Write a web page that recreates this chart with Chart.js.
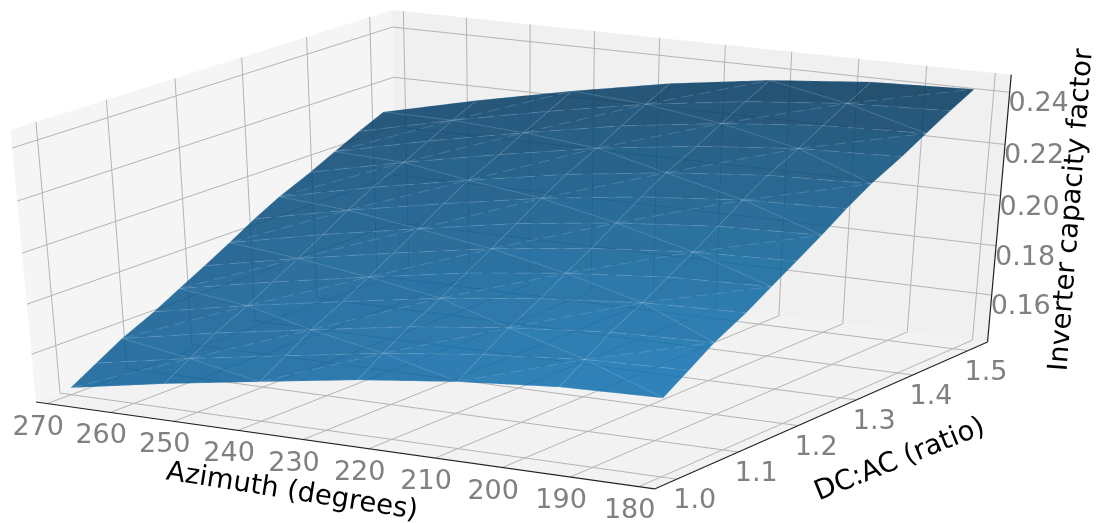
<!DOCTYPE html>
<html>
<head>
<meta charset="utf-8">
<title>Inverter capacity factor</title>
<script src="https://cdn.jsdelivr.net/npm/chart.js@4"></script>
<style>
  html, body { margin: 0; padding: 0; background: #fff; }
  canvas { display: block; }
</style>
</head>
<body>
<canvas id="chart" width="1099" height="523"></canvas>
<script>
// Surface values, one list per DC:AC row
const azimuths = [270, 255, 240, 225, 210, 195, 180];
const dcRatios = [1.00, 1.04, 1.08, 1.13, 1.17, 1.21, 1.25, 1.29, 1.33, 1.38, 1.42, 1.46, 1.50];
const cf100 = [0.1434, 0.1504, 0.1565, 0.1626, 0.1672, 0.1705, 0.1716];
const cf104 = [0.1495, 0.1566, 0.1629, 0.1691, 0.1738, 0.1771, 0.1782];
const cf108 = [0.1556, 0.1629, 0.1693, 0.1756, 0.1803, 0.1837, 0.1848];
const cf113 = [0.1616, 0.1691, 0.1757, 0.1820, 0.1868, 0.1902, 0.1914];
const cf117 = [0.1672, 0.1748, 0.1816, 0.1881, 0.1929, 0.1963, 0.1975];
const cf121 = [0.1727, 0.1805, 0.1874, 0.1939, 0.1988, 0.2022, 0.2035];
const cf125 = [0.1784, 0.1864, 0.1934, 0.2001, 0.2050, 0.2084, 0.2097];
const cf129 = [0.1844, 0.1925, 0.1997, 0.2064, 0.2115, 0.2149, 0.2162];
const cf133 = [0.1898, 0.1981, 0.2054, 0.2122, 0.2173, 0.2208, 0.2221];
const cf138 = [0.1953, 0.2037, 0.2112, 0.2181, 0.2232, 0.2267, 0.2280];
const cf142 = [0.2002, 0.2088, 0.2164, 0.2234, 0.2286, 0.2321, 0.2334];
const cf146 = [0.2050, 0.2137, 0.2215, 0.2285, 0.2337, 0.2372, 0.2386];
const cf150 = [0.2095, 0.2183, 0.2262, 0.2333, 0.2386, 0.2421, 0.2435];
const capacityRows = [cf100, cf104, cf108, cf113, cf117, cf121, cf125, cf129, cf133, cf138, cf142, cf146, cf150];

// Tick labels
const azTicks = [270, 260, 250, 240, 230, 220, 210, 200, 190, 180];
const dcTicks = ['1.0', '1.1', '1.2', '1.3', '1.4', '1.5'];
const zTicks = ['0.16', '0.18', '0.20', '0.22', '0.24'];

// Box limits
const azLim = [271.8, 177.7];
const dcLim = [0.9646, 1.536];
const zLim = [0.1406, 0.2467];

// Perspective camera, unit cube -> canvas pixels
function project(az, dc, z) {
  const u = (az - azLim[0]) / (azLim[1] - azLim[0]);
  const v = (dc - dcLim[0]) / (dcLim[1] - dcLim[0]);
  const w = (z - zLim[0]) / (zLim[1] - zLim[0]);
  const d = 1 - 0.0496 * u + 0.0774 * v - 0.0498 * w;
  return {
    x: (586.1 * u + 392.9 * v - 26.0 * w + 36) / d,
    y: (62.7 * u - 113.2 * v - 278.5 * w + 402) / d
  };
}

const datasets = [];
function addPolygon(corners, color) {
  datasets.push({
    data: corners.concat([corners[0]]).map(c => project(c[0], c[1], c[2])),
    fill: 'shape', backgroundColor: color, borderWidth: 0, pointRadius: 0, showLine: true
  });
}
function addLine(from, to, color, width, dash) {
  datasets.push({
    data: [project(from[0], from[1], from[2]), project(to[0], to[1], to[2])],
    borderColor: color, borderWidth: width, borderDash: dash || [], pointRadius: 0, showLine: true, fill: false
  });
}

const [a0, a1] = azLim, [d0, d1] = dcLim, [z0, z1] = zLim;
const gridColor = '#b4b4b4';

// Panes
addPolygon([[a0, d0, z0], [a0, d1, z0], [a0, d1, z1], [a0, d0, z1]], '#f6f5f5');
addPolygon([[a0, d1, z0], [a1, d1, z0], [a1, d1, z1], [a0, d1, z1]], '#f0f0f0');
addPolygon([[a0, d0, z0], [a1, d0, z0], [a1, d1, z0], [a0, d1, z0]], '#f2f2f2');

// Grid on panes
azTicks.forEach(az => {
  addLine([az, d0, z0], [az, d1, z0], gridColor, 1);
  addLine([az, d1, z0], [az, d1, z1], gridColor, 1);
});
dcTicks.forEach(t => {
  const dc = parseFloat(t);
  addLine([a0, dc, z0], [a1, dc, z0], gridColor, 1);
  addLine([a0, dc, z0], [a0, dc, z1], gridColor, 1);
});
zTicks.forEach(t => {
  const z = parseFloat(t);
  addLine([a0, d0, z], [a0, d1, z], gridColor, 1);
  addLine([a0, d1, z], [a1, d1, z], gridColor, 1);
});

// Surface shade, picked at the four corners and mixed across the sheet
function shade(i, j, dark, alpha) {
  const s = i / (azimuths.length - 1);
  const t = Math.pow(j / (dcRatios.length - 1), 1.5);
  const front = [10 + 5 * s, 92 + 23 * s, 150 + 30 * s];
  const back = [3 - 2 * s, 62 - 11 * s, 104 - 18 * s];
  const c = front.map((f, k) => (f + (back[k] - f) * t) * dark);
  return `rgba(${c[0].toFixed(0)},${c[1].toFixed(0)},${c[2].toFixed(0)},${alpha})`;
}
// Quads first so triangle seams do not show the panes, then the facets over them
for (let j = 0; j < dcRatios.length - 1; j++) {
  for (let i = 0; i < azimuths.length - 1; i++) {
    const p00 = [azimuths[i], dcRatios[j], capacityRows[j][i]];
    const p10 = [azimuths[i + 1], dcRatios[j], capacityRows[j][i + 1]];
    const p01 = [azimuths[i], dcRatios[j + 1], capacityRows[j + 1][i]];
    const p11 = [azimuths[i + 1], dcRatios[j + 1], capacityRows[j + 1][i + 1]];
    addPolygon([p00, p10, p11, p01], shade(i + 0.5, j + 0.5, 0.99, 0.75));
    if ((i + j) % 2 === 0) {
      addPolygon([p00, p10, p11], shade(i + 0.67, j + 0.33, 1.0, 0.4));
      addPolygon([p00, p11, p01], shade(i + 0.33, j + 0.67, 0.96, 0.4));
    } else {
      addPolygon([p00, p10, p01], shade(i + 0.33, j + 0.33, 0.96, 0.4));
      addPolygon([p10, p11, p01], shade(i + 0.67, j + 0.67, 1.0, 0.4));
    }
  }
}

// Light triangle edges
const edgeColor = 'rgba(170,205,230,0.24)';
for (let j = 0; j < dcRatios.length; j++) {
  for (let i = 0; i < azimuths.length; i++) {
    const here = [azimuths[i], dcRatios[j], capacityRows[j][i]];
    if (i + 1 < azimuths.length) {
      addLine(here, [azimuths[i + 1], dcRatios[j], capacityRows[j][i + 1]], edgeColor, 1, [16, 9]);
    }
    if (j + 1 < dcRatios.length) {
      addLine(here, [azimuths[i], dcRatios[j + 1], capacityRows[j + 1][i]], edgeColor, 1);
    }
    if (i + 1 < azimuths.length && j + 1 < dcRatios.length) {
      if ((i + j) % 2 === 0) {
        addLine(here, [azimuths[i + 1], dcRatios[j + 1], capacityRows[j + 1][i + 1]], edgeColor, 1, [12, 6]);
      } else {
        addLine([azimuths[i], dcRatios[j + 1], capacityRows[j + 1][i]], [azimuths[i + 1], dcRatios[j], capacityRows[j][i + 1]], edgeColor, 1);
      }
    }
  }
}

// Axis lines
addLine([a0, d0, z0], [a1, d0, z0], '#222', 1.2);
addLine([a1, d0, z0], [a1, d1, z0], '#222', 1.2);
addLine([a1, d1, z0], [a1, d1, z1], '#222', 1.2);

// Chart.js paints the first dataset last, so flip to keep panes at the back
datasets.reverse();

const tickFont = '27px "DejaVu Sans"';
const titleFont = '27.5px "DejaVu Sans"';
const tickGrey = '#808080';

function drawText(ctx, text, x, y, font, color, angle) {
  ctx.save();
  ctx.translate(x, y);
  ctx.rotate((angle || 0) * Math.PI / 180);
  ctx.font = font;
  ctx.fillStyle = color;
  ctx.textAlign = 'center';
  ctx.textBaseline = 'middle';
  ctx.fillText(text, 0, 0);
  ctx.restore();
}

const axisText = {
  id: 'axisText',
  afterDatasetsDraw(chart) {
    const ctx = chart.ctx;
    azTicks.forEach(az => {
      const p = project(az, d0, z0);
      drawText(ctx, String(az), p.x - 9, p.y + 24, tickFont, tickGrey);
    });
    dcTicks.forEach(t => {
      const p = project(a1, parseFloat(t), z0);
      drawText(ctx, t, p.x + 18, p.y + 22, tickFont, tickGrey);
    });
    zTicks.forEach(t => {
      const p = project(a1, d1, parseFloat(t));
      drawText(ctx, t, p.x + 29, p.y + 12, tickFont, tickGrey);
    });
    drawText(ctx, 'Azimuth (degrees)', 292, 492, titleFont, '#000', 9);
    drawText(ctx, 'DC:AC (ratio)', 900, 460, titleFont, '#000', -22);
    drawText(ctx, 'Inverter capacity factor', 1072, 210, titleFont, '#000', -85.5);
  }
};

new Chart(document.getElementById('chart').getContext('2d'), {
  type: 'scatter',
  data: { datasets },
  plugins: [axisText],
  options: {
    responsive: false,
    animation: false,
    layout: { padding: 0 },
    elements: { line: { tension: 0 } },
    plugins: { legend: { display: false }, tooltip: { enabled: false }, title: { display: false } },
    scales: {
      x: { type: 'linear', min: 0, max: 1099, display: false },
      y: { type: 'linear', min: 0, max: 523, reverse: true, display: false }
    }
  }
});
</script>
</body>
</html>
